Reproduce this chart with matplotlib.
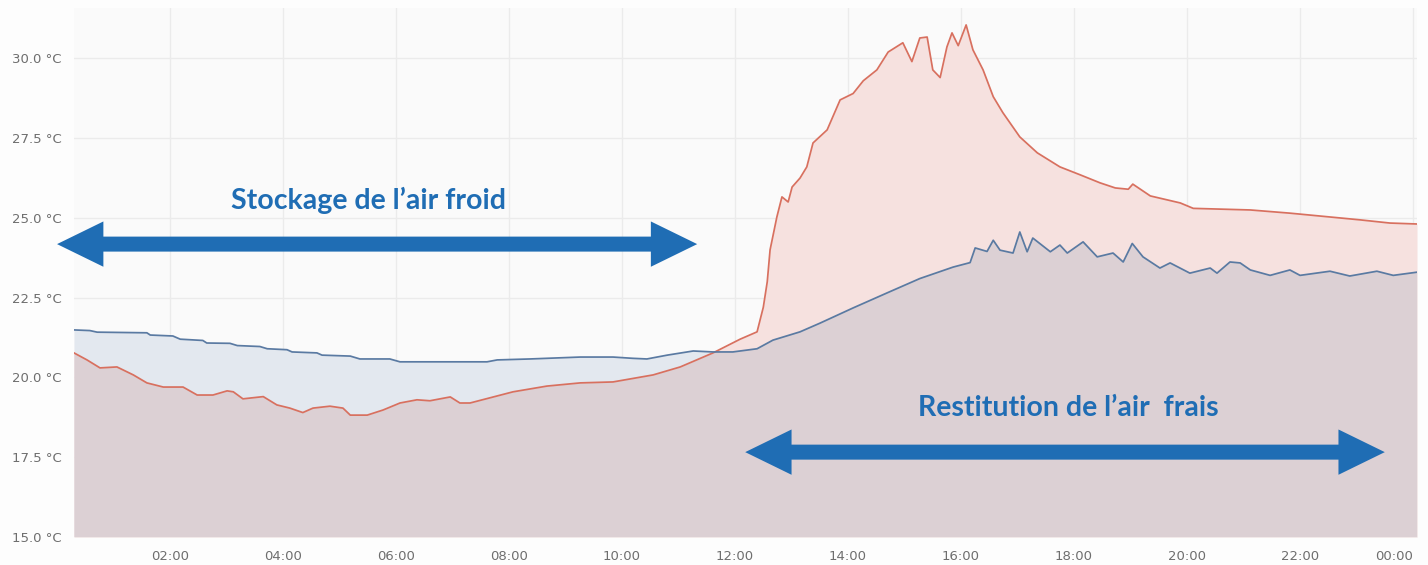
import numpy as np
import matplotlib
matplotlib.use("Agg")
import matplotlib.pyplot as plt
from matplotlib.patches import Polygon

# indoor temperature (blue), hours since midnight
t_in = [0.30, 0.58, 0.71, 1.59, 1.65, 2.05, 2.18, 2.58, 2.65, 3.06, 3.19, 3.59, 3.72,
        4.07, 4.16, 4.60, 4.69, 5.19, 5.36, 5.89, 6.07, 7.61, 7.79, 8.37, 9.26, 9.84,
        10.19, 10.44, 10.80, 11.26, 11.61, 11.96, 12.39, 12.67, 13.15, 13.50, 14.09,
        14.69, 15.27, 15.86, 16.16, 16.25, 16.46, 16.57, 16.69, 16.92, 17.04, 17.17,
        17.27, 17.58, 17.75, 17.88, 18.16, 18.41, 18.69, 18.87, 19.03, 19.22, 19.52,
        19.70, 20.05, 20.41, 20.53, 20.76, 20.94, 21.12, 21.47, 21.82, 22.00, 22.53,
        22.88, 23.36, 23.65, 24.07]
temp_in = [21.49, 21.47, 21.42, 21.40, 21.33, 21.30, 21.20, 21.16, 21.08, 21.07, 21.00,
           20.97, 20.90, 20.87, 20.80, 20.77, 20.70, 20.67, 20.58, 20.58, 20.49, 20.49,
           20.55, 20.58, 20.64, 20.64, 20.60, 20.58, 20.70, 20.83, 20.80, 20.80, 20.90,
           21.17, 21.43, 21.70, 22.18, 22.65, 23.10, 23.46, 23.60, 24.06, 23.95, 24.30,
           23.99, 23.90, 24.56, 23.94, 24.37, 23.94, 24.15, 23.90, 24.25, 23.78, 23.90,
           23.62, 24.20, 23.78, 23.43, 23.59, 23.27, 23.43, 23.27, 23.62, 23.59, 23.37,
           23.20, 23.37, 23.20, 23.33, 23.18, 23.33, 23.20, 23.30]

# outdoor temperature (red)
t_out = [0.30, 0.53, 0.76, 1.06, 1.35, 1.59, 1.88, 2.23, 2.48, 2.76, 3.01, 3.12, 3.29,
         3.65, 3.89, 4.12, 4.35, 4.53, 4.83, 5.06, 5.19, 5.49, 5.77, 6.07, 6.37, 6.60,
         6.96, 7.13, 7.31, 8.07, 8.67, 9.26, 9.84, 10.55, 11.03, 11.61, 12.09, 12.39,
         12.50, 12.57, 12.62, 12.74, 12.83, 12.94, 13.01, 13.15, 13.27, 13.38, 13.63,
         13.86, 14.09, 14.27, 14.51, 14.71, 14.97, 15.13, 15.27, 15.40, 15.50, 15.63,
         15.75, 15.84, 15.95, 16.09, 16.21, 16.39, 16.57, 16.74, 17.04, 17.35, 17.75,
         18.11, 18.46, 18.73, 18.96, 19.04, 19.35, 19.88, 20.11, 21.12, 21.82, 22.53,
         23.06, 23.59, 24.07]
temp_out = [20.77, 20.55, 20.30, 20.33, 20.08, 19.83, 19.70, 19.70, 19.45, 19.45, 19.58,
            19.55, 19.33, 19.40, 19.14, 19.04, 18.90, 19.04, 19.10, 19.04, 18.82, 18.82,
            18.98, 19.20, 19.30, 19.27, 19.39, 19.20, 19.20, 19.55, 19.73, 19.83, 19.86,
            20.08, 20.33, 20.77, 21.20, 21.43, 22.20, 23.00, 24.00, 25.03, 25.66, 25.50,
            25.97, 26.25, 26.60, 27.35, 27.76, 28.70, 28.90, 29.30, 29.64, 30.20, 30.49,
            29.90, 30.64, 30.67, 29.64, 29.40, 30.36, 30.80, 30.40, 31.05, 30.27, 29.64,
            28.80, 28.30, 27.54, 27.04, 26.60, 26.35, 26.10, 25.94, 25.90, 26.06, 25.69,
            25.47, 25.30, 25.25, 25.15, 25.03, 24.94, 24.84, 24.81]

y_ticks = [15.0, 17.5, 20.0, 22.5, 25.0, 27.5, 30.0]
x_ticks = [2, 4, 6, 8, 10, 12, 14, 16, 18, 20, 22, 24]

RED = "#d8705f"
BLUE = "#5a7aa2"
ARROW = "#1f6db4"
BASE = 15.0

fig = plt.figure(figsize=(14.28, 5.65), dpi=100, facecolor="#fdfdfd")
ax = fig.add_axes([74 / 1428, 1 - 537 / 565, (1417 - 74) / 1428, (537 - 8) / 565])
ax.set_facecolor("#fafafa")

blue_fill = ax.fill_between(t_in, BASE, temp_in, color="#e3e8ef", lw=0, zorder=1)
ax.fill_between(t_out, BASE, temp_out, color="#f6e1df", lw=0, zorder=1.1)
# overlap of both areas, clipped to the indoor area
overlap = ax.fill_between(t_out, BASE, temp_out, color="#dcd0d4", lw=0, zorder=1.2)
overlap.set_clip_path(blue_fill.get_paths()[0], ax.transData)

ax.plot(t_out, temp_out, color=RED, lw=1.25, zorder=3)
ax.plot(t_in, temp_in, color=BLUE, lw=1.25, zorder=3)

ax.set_xlim(0.30, 24.07)
ax.set_ylim(BASE, 31.58)
ax.set_yticks(y_ticks)
ax.set_yticklabels([f"{v:.1f} °C" for v in y_ticks])
ax.set_xticks(x_ticks)
ax.set_xticklabels([f"{h % 24:02d}:00" for h in x_ticks])
ax.tick_params(length=0, labelsize=9.5, labelcolor="#6e6e6e", pad=9)
ax.get_xticklabels()[-1].set_horizontalalignment("right")
ax.grid(True, color="#ebebeb", lw=1)
ax.set_axisbelow(True)
for s in ax.spines.values():
    s.set_visible(False)


def double_arrow(x0, x1, y, shaft=0.235, head=0.71, head_len=0.82):
    # one polygon: left tip, left head, shaft, right head, right tip
    pts = [(x0, y),
           (x0 + head_len, y + head), (x0 + head_len, y + shaft),
           (x1 - head_len, y + shaft), (x1 - head_len, y + head),
           (x1, y),
           (x1 - head_len, y - head), (x1 - head_len, y - shaft),
           (x0 + head_len, y - shaft), (x0 + head_len, y - head)]
    ax.add_patch(Polygon(pts, closed=True, facecolor=ARROW, lw=0, zorder=5, clip_on=False))


double_arrow(0.0, 11.33, 24.18)
double_arrow(12.18, 23.5, 17.66)

ax.text(5.52, 25.56, "Stockage de l\u2019air froid", color=ARROW, fontsize=20.5,
        fontweight="bold", family="Lato", ha="center", va="center", zorder=6)
ax.text(17.9, 19.05, "Restitution de l\u2019air  frais", color=ARROW, fontsize=20.5,
        fontweight="bold", family="Lato", ha="center", va="center", zorder=6)

fig.savefig("out.png", dpi=100, facecolor=fig.get_facecolor())
